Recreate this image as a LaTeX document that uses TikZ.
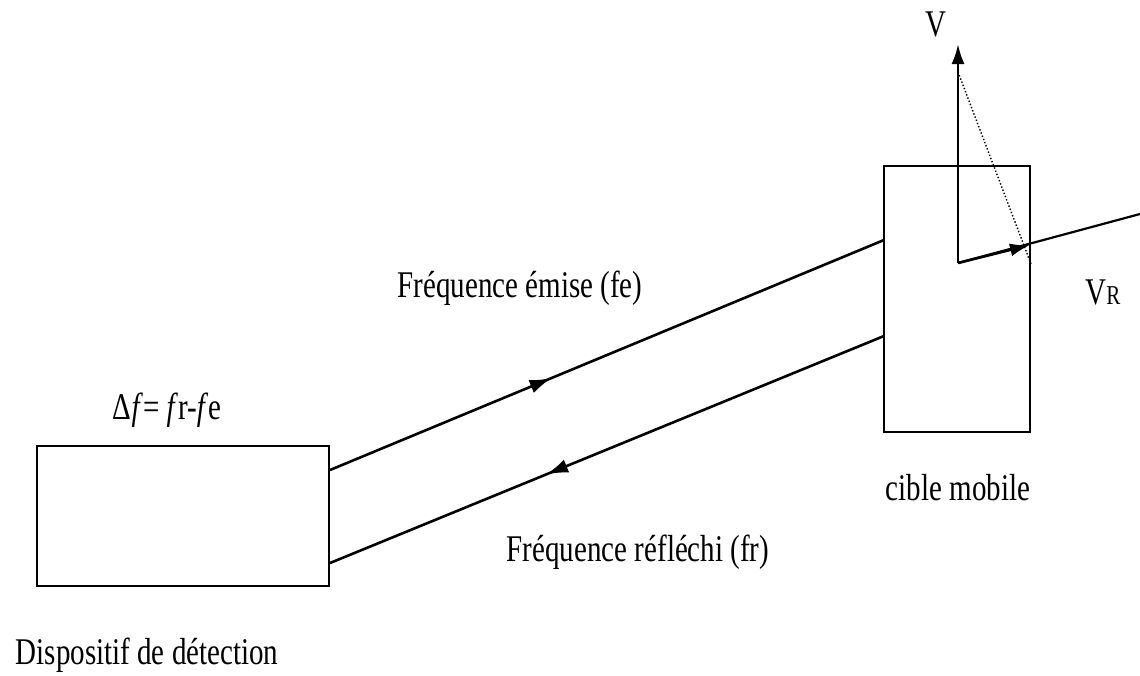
\documentclass[tikz,border=0pt]{standalone}
\usepackage{fontspec}
\setmainfont{Liberation Serif}
\usetikzlibrary{arrows.meta,decorations.markings}
\newcommand{\tall}[1]{\scalebox{1}[1.3]{#1}}
\begin{document}
\begin{tikzpicture}[x=1pt,y=-1pt,
  box/.style={draw,line width=2pt,inner sep=0pt},
  lbl/.style={font=\fontsize{29}{32}\selectfont,inner sep=0pt},
  wave/.style={line width=2.6pt},
  midarrow/.style={postaction={decorate},decoration={markings,
     mark=at position #1 with {\arrow{Latex[length=22pt,width=14pt]}}}},
  vec/.style={line width=2.6pt,-{Latex[length=20pt,width=13pt]}}]
\useasboundingbox (0,0) rectangle (1140,675);
\node[box,minimum width=292pt,minimum height=140pt] (det) at (183,516) {};
\node[box,minimum width=146pt,minimum height=266pt] (cib) at (957,299) {};
\coordinate (d1) at (330,470);
\coordinate (d2) at (330,563);
\coordinate (c1) at (884,240);
\coordinate (c2) at (884,336);
\draw[wave,midarrow=0.40] (d1) -- (c1);
\draw[wave,midarrow=0.61] (c2) -- (d2);
\coordinate (o) at (958,263);
\coordinate (vt) at (958,44);
\coordinate (vr) at (1030,245);
\coordinate (far) at (1140,214);
\coordinate (dt) at (958,72);
\coordinate (db) at (1031,264);
\draw[vec] (o) -- (vt);
\draw[line width=2.2pt] (o) -- (far);
\draw[vec] (o) -- (vr);
\draw[dotted,line width=1.4pt] (dt) -- (db);
\node[lbl] (vlab) at (936,24) {\tall{V}};
\node[lbl] (vrlab) at (1103,292) {\tall{V\fontsize{21}{24}\selectfont R}};
\node[lbl] (cl) at (958,488) {\tall{cible mobile}};
\node[lbl] (fe) at (520,288) {\tall{Fréquence émise (fe)}};
\node[lbl] (fr) at (638,552) {\tall{Fréquence réfléchi (fr)}};
\node[lbl] (df) at (167,410) {\tall{Δ\textit{f}= \textit{f}r-\textit{f}e}};
\node[lbl] (dd) at (147,655) {\tall{Dispositif de détection}};
\end{tikzpicture}
\end{document}
